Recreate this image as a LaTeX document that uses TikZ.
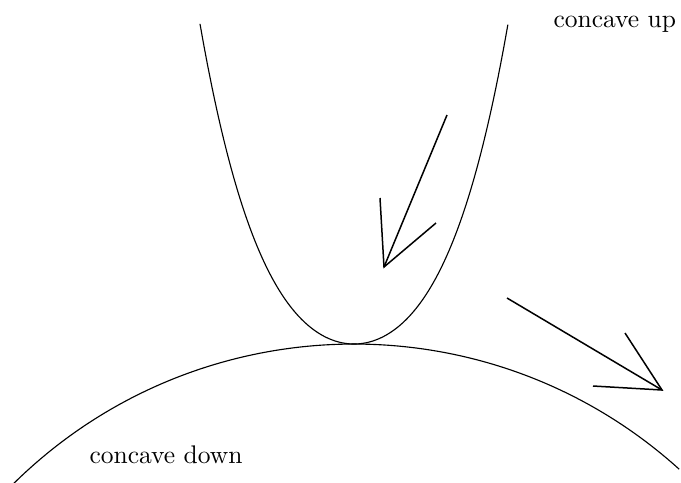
\documentclass[tikz,border=0pt]{standalone}
\begin{document}
\begin{tikzpicture}[x=0.4pt,y=-0.4pt,
  curve/.style={line width=0.45pt},
  arrowline/.style={line width=0.6pt},
  lbl/.style={anchor=base west,inner sep=0pt,font=\fontsize{10.2pt}{12pt}\selectfont}]
\useasboundingbox (0,0) rectangle (681,482);
% parabola (concave up)
\draw[curve] plot[domain=-1.54:1.54,samples=90,smooth]
  ({354+100*\x},{344-84*\x*\x-21.5*\x*\x*\x*\x});
% circle arc (concave down)
\coordinate (cc) at (354,829);
\draw[curve] (cc) ++(-134.8:485) arc[start angle=-134.8,end angle=-47.9,radius=485];
% arrow 1
\coordinate (a1s) at (447,115);
\coordinate (a1t) at (384,267);
\coordinate (a1l) at (380,198);
\coordinate (a1r) at (436,223);
\draw[arrowline] (a1s) -- (a1t);
\draw[arrowline] (a1l) -- (a1t) -- (a1r);
% arrow 2
\coordinate (a2s) at (507,298);
\coordinate (a2t) at (662,390);
\coordinate (a2u) at (625,333);
\coordinate (a2d) at (593,386);
\draw[arrowline] (a2s) -- (a2t);
\draw[arrowline] (a2u) -- (a2t) -- (a2d);
% labels
\node[lbl] (up) at (553,27) {concave up};
\node[lbl] (down) at (89,463) {concave down};
\end{tikzpicture}
\end{document}
